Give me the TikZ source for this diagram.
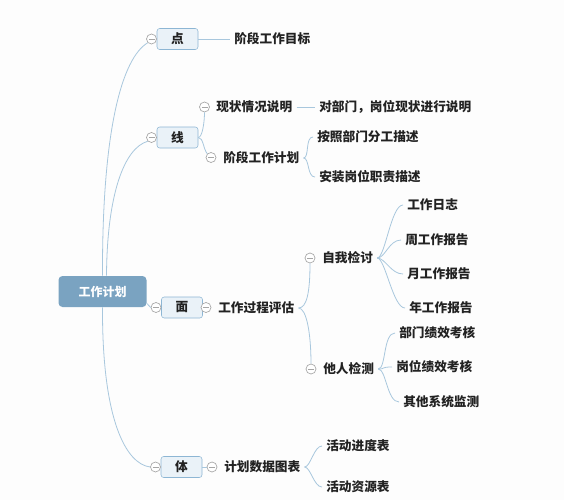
\documentclass[tikz,border=0pt]{standalone}
\usepackage{fontspec}
\setmainfont{Noto Sans CJK SC}
\definecolor{linec}{HTML}{A8C7DD}
\definecolor{boxfill}{HTML}{EAF2F8}
\definecolor{boxdraw}{HTML}{8DB6D4}
\definecolor{rootfill}{HTML}{7AA3C1}
\definecolor{foldc}{HTML}{A6A6A6}
\definecolor{bgc}{HTML}{FDFDFD}
\definecolor{textc}{HTML}{222222}
\begin{document}
\begin{tikzpicture}[x=0.75pt,y=-0.75pt,
    every node/.style={text=textc,font=\fontsize{9.5pt}{11pt}\selectfont\bfseries},
    link/.style={draw=linec,line width=0.6pt},
    mainbox/.style={draw=none,fill=rootfill,rounded corners=3pt,minimum width=66pt,minimum height=23.25pt,
        text=white,font=\fontsize{9pt}{11pt}\selectfont\bfseries},
    topic/.style={draw=boxdraw,fill=boxfill,rounded corners=2pt,minimum width=30.75pt,minimum height=15.75pt,inner sep=0pt},
    leaf/.style={anchor=west,inner xsep=3pt,inner ysep=1pt},
    fold/.style={circle,draw=foldc,fill=white,minimum size=7.5pt,inner sep=0pt,line width=0.5pt,
        path picture={\draw[foldc,line width=0.5pt] ([xshift=1.5pt]path picture bounding box.west) -- ([xshift=-1.5pt]path picture bounding box.east);}}]
    \fill[bgc] (0,0) rectangle (564,500);
    \useasboundingbox (0,0) rectangle (564,500);

    % root and the four main topics
    \node[mainbox] (root) at (102.5,291.5) {工作计划};
    \node[topic] (dian) at (177.5,39) {点};
    \node[topic] (xian) at (177.5,137.5) {线};
    \node[topic] (mian) at (182,307.5) {面};
    \node[topic] (ti) at (181.5,467) {体};

    \node[fold] (fdian) at (151.5,39) {};
    \node[fold] (fxian) at (151.5,137.5) {};
    \node[fold] (fmian) at (156,307.5) {};
    \node[fold] (fmianb) at (206,307.5) {};
    \node[fold] (fti) at (155.5,467) {};
    \node[fold] (ftib) at (212,467) {};

    \draw[link] (root.north) .. controls (102,130) and (122,58) .. (fdian.south west);
    \draw[link] ([xshift=3pt]root.north) .. controls (107,195) and (124,148) .. (fxian.south west);
    \draw[link] (root.-15) -- (fmian.west);
    \draw[link] (root.south) .. controls (102,420) and (126,464) .. (fti.west);

    % 点
    \node[leaf] (mubiao) at (230,39) {阶段工作目标};
    \draw[link] (dian.east) -- (mubiao.west);

    % 线
    \node[fold] (fxianzhuang) at (204.5,107) {};
    \node[leaf] (xianzhuang) at (212,107) {现状情况说明};
    \node[leaf] (shuoming) at (315,107) {对部门，岗位现状进行说明};
    \node[fold] (fjihua) at (211,157.5) {};
    \node[leaf] (jihua) at (219,158) {阶段工作计划};
    \node[leaf] (anzhao) at (313,137) {按照部门分工描述};
    \node[leaf] (anzhuang) at (315,177) {安装岗位职责描述};

    \draw[link] (xian.east) .. controls +(4,0) and +(0,10) .. (fxianzhuang.south);
    \draw[link] (xian.east) .. controls +(5,0) and +(-4,-5) .. (fjihua.north west);
    \draw[link] (xianzhuang.east) -- (shuoming.west);
    \draw[link] (jihua.east) .. controls +(6,0) and +(-8,0) .. (anzhao.west);
    \draw[link] (jihua.east) .. controls +(6,0) and +(-8,0) .. (anzhuang.west);

    % 面
    \node[leaf] (guocheng) at (214,308) {工作过程评估};
    \node[fold] (fziwo) at (310,258) {};
    \node[leaf] (ziwo) at (318,258) {自我检讨};
    \node[fold] (ftaren) at (311,369) {};
    \node[leaf] (taren) at (319,369) {他人检测};

    \draw[link] (guocheng.east) .. controls +(8,0) and +(0,30) .. (fziwo.south);
    \draw[link] (guocheng.east) .. controls +(8,0) and +(0,-30) .. (ftaren.north);

    \node[leaf] (rizhi) at (403,205) {工作日志};
    \node[leaf] (zhou) at (401,240) {周工作报告};
    \node[leaf] (yue) at (403,274) {月工作报告};
    \node[leaf] (nian) at (405,308) {年工作报告};
    \foreach \n in {rizhi,zhou,yue,nian}
        \draw[link] (ziwo.east) .. controls +(8,0) and +(-12,0) .. (\n.west);

    \node[leaf] (bumen) at (395,333) {部门绩效考核};
    \node[leaf] (gangwei) at (392,367) {岗位绩效考核};
    \node[leaf] (qita) at (399,402) {其他系统监测};
    \foreach \n in {bumen,gangwei,qita}
        \draw[link] (taren.east) .. controls +(8,0) and +(-12,0) .. (\n.west);

    % 体
    \draw[link] (ti.east) -- (ftib.west);
    \node[leaf] (tubiao) at (220,467) {计划数据图表};
    \node[leaf] (jindu) at (322,446) {活动进度表};
    \node[leaf] (ziyuan) at (322,487) {活动资源表};
    \draw[link] (tubiao.east) .. controls +(6,0) and +(-8,0) .. (jindu.west);
    \draw[link] (tubiao.east) .. controls +(6,0) and +(-8,0) .. (ziyuan.west);
\end{tikzpicture}
\end{document}
